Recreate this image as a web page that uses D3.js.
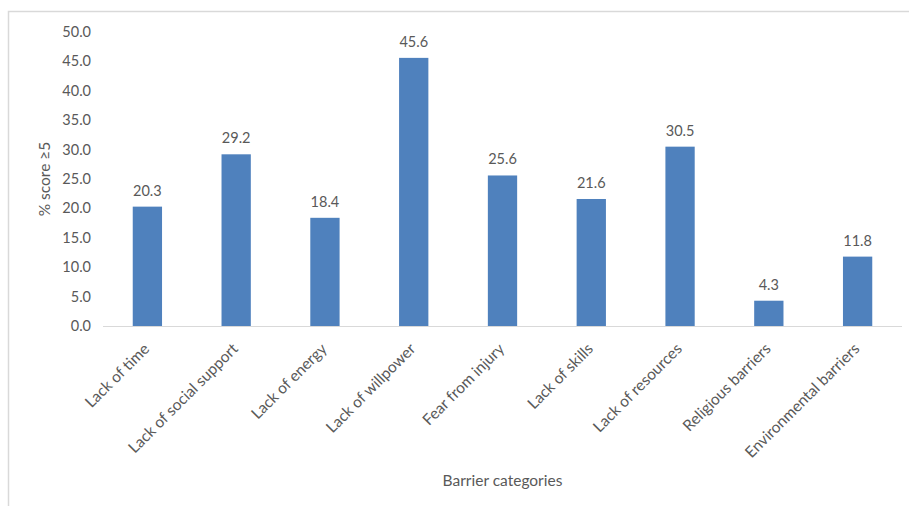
<!DOCTYPE html>
<html>
<head>
<meta charset="utf-8">
<script src="https://cdn.jsdelivr.net/npm/d3@7"></script>
<style>
  body { margin: 0; background: #fff; }
  text { font-family: Lato, "Open Sans", sans-serif; fill: #595959; }
</style>
</head>
<body>
<svg id="chart" width="909" height="506"></svg>
<script>
var categories = ['Lack of time', 'Lack of social support', 'Lack of energy', 'Lack of willpower',
  'Fear from injury', 'Lack of skills', 'Lack of resources', 'Religious barriers', 'Environmental barriers'];
var values = [20.3, 29.2, 18.4, 45.6, 25.6, 21.6, 30.5, 4.3, 11.8];
var yTicks = [0, 5, 10, 15, 20, 25, 30, 35, 40, 45, 50];

var svg = d3.select('#chart');

// outer frame (runs off the right and bottom like the source)
svg.append('rect')
  .attr('x', 8.5).attr('y', 11.5)
  .attr('width', 920).attr('height', 520)
  .attr('fill', 'none')
  .attr('stroke', '#d9d9d9')
  .attr('stroke-width', 1.5);

var plotLeft = 103, plotRight = 902, plotTop = 32, plotBottom = 326;

var x = d3.scaleBand()
  .domain(categories)
  .range([plotLeft, plotRight])
  .paddingInner(0.67)
  .paddingOuter(0.335);

var y = d3.scaleLinear()
  .domain([0, 50])
  .range([plotBottom, plotTop]);

// y tick labels
svg.append('g')
  .selectAll('text')
  .data(yTicks)
  .enter()
  .append('text')
    .attr('x', 91)
    .attr('y', function (d) { return y(d); })
    .attr('dy', '0.35em')
    .attr('text-anchor', 'end')
    .style('font-size', '14.5px')
    .text(function (d) { return d.toFixed(1); });

// bars
svg.append('g')
  .selectAll('rect')
  .data(values)
  .enter()
  .append('rect')
    .attr('x', function (d, i) { return x(categories[i]); })
    .attr('y', function (d) { return y(d); })
    .attr('width', x.bandwidth())
    .attr('height', function (d) { return y(0) - y(d); })
    .attr('fill', '#4f81bd');

// baseline
svg.append('line')
  .attr('x1', plotLeft).attr('x2', plotRight)
  .attr('y1', y(0) + 0.5).attr('y2', y(0) + 0.5)
  .attr('stroke', '#d9d9d9')
  .attr('stroke-width', 1);

// value labels
svg.append('g')
  .selectAll('text')
  .data(values)
  .enter()
  .append('text')
    .attr('x', function (d, i) { return x(categories[i]) + x.bandwidth() / 2; })
    .attr('y', function (d) { return y(d) - 11; })
    .attr('text-anchor', 'middle')
    .style('font-size', '14.5px')
    .text(function (d) { return d.toFixed(1); });

// category labels, rotated
svg.append('g')
  .selectAll('text')
  .data(categories)
  .enter()
  .append('text')
    .attr('transform', function (d) {
      var cx = x(d) + x.bandwidth() / 2 - 1;
      return 'translate(' + cx + ',' + (plotBottom + 20) + ') rotate(-45)';
    })
    .attr('text-anchor', 'end')
    .attr('dy', '0.35em')
    .style('font-size', '15.5px')
    .text(function (d) { return d; });

// axis titles
svg.append('text')
  .attr('x', (plotLeft + plotRight) / 2)
  .attr('y', 486)
  .attr('text-anchor', 'middle')
  .style('font-size', '15.5px')
  .text('Barrier categories');

svg.append('text')
  .attr('transform', 'translate(50,' + ((plotTop + plotBottom) / 2) + ') rotate(-90)')
  .attr('text-anchor', 'middle')
  .style('font-size', '15.5px')
  .text('% score \u22655');
</script>
</body>
</html>
